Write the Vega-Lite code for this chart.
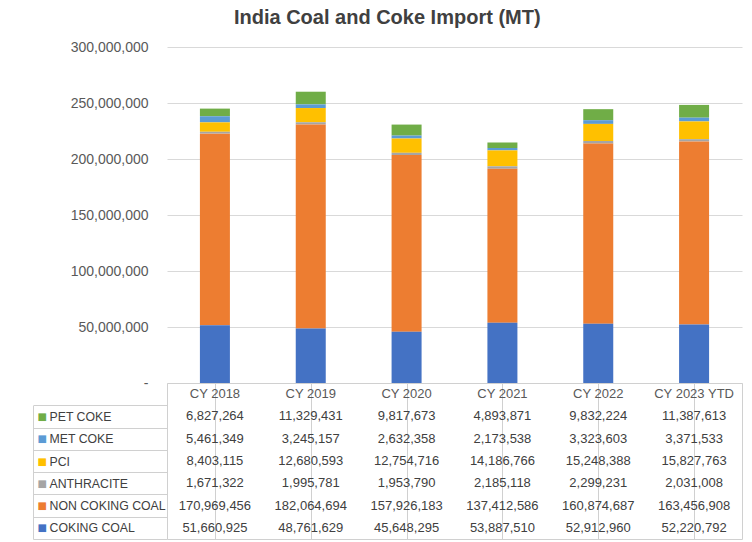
{
  "$schema": "https://vega.github.io/schema/vega-lite/v6.json",
  "padding": {"left": 32, "top": 8, "right": 11, "bottom": 2},
  "background": "white",
  "title": {"text": "India Coal and Coke Import (MT)", "font": "Liberation Sans", "fontSize": 20, "fontWeight": "bold", "color": "#404040", "anchor": "middle", "offset": 12},
  "bounds": "flush",
  "spacing": 0,
  "config": {"view": {"stroke": null}, "font": "Liberation Sans"},
  "datasets": {
    "imports": [
      {"year": "CY 2018", "type": "PET COKE", "value": 6827264},
      {"year": "CY 2018", "type": "MET COKE", "value": 5461349},
      {"year": "CY 2018", "type": "PCI", "value": 8403115},
      {"year": "CY 2018", "type": "ANTHRACITE", "value": 1671322},
      {"year": "CY 2018", "type": "NON COKING COAL", "value": 170969456},
      {"year": "CY 2018", "type": "COKING COAL", "value": 51660925},
      {"year": "CY 2019", "type": "PET COKE", "value": 11329431},
      {"year": "CY 2019", "type": "MET COKE", "value": 3245157},
      {"year": "CY 2019", "type": "PCI", "value": 12680593},
      {"year": "CY 2019", "type": "ANTHRACITE", "value": 1995781},
      {"year": "CY 2019", "type": "NON COKING COAL", "value": 182064694},
      {"year": "CY 2019", "type": "COKING COAL", "value": 48761629},
      {"year": "CY 2020", "type": "PET COKE", "value": 9817673},
      {"year": "CY 2020", "type": "MET COKE", "value": 2632358},
      {"year": "CY 2020", "type": "PCI", "value": 12754716},
      {"year": "CY 2020", "type": "ANTHRACITE", "value": 1953790},
      {"year": "CY 2020", "type": "NON COKING COAL", "value": 157926183},
      {"year": "CY 2020", "type": "COKING COAL", "value": 45648295},
      {"year": "CY 2021", "type": "PET COKE", "value": 4893871},
      {"year": "CY 2021", "type": "MET COKE", "value": 2173538},
      {"year": "CY 2021", "type": "PCI", "value": 14186766},
      {"year": "CY 2021", "type": "ANTHRACITE", "value": 2185118},
      {"year": "CY 2021", "type": "NON COKING COAL", "value": 137412586},
      {"year": "CY 2021", "type": "COKING COAL", "value": 53887510},
      {"year": "CY 2022", "type": "PET COKE", "value": 9832224},
      {"year": "CY 2022", "type": "MET COKE", "value": 3323603},
      {"year": "CY 2022", "type": "PCI", "value": 15248388},
      {"year": "CY 2022", "type": "ANTHRACITE", "value": 2299231},
      {"year": "CY 2022", "type": "NON COKING COAL", "value": 160874687},
      {"year": "CY 2022", "type": "COKING COAL", "value": 52912960},
      {"year": "CY 2023 YTD", "type": "PET COKE", "value": 11387613},
      {"year": "CY 2023 YTD", "type": "MET COKE", "value": 3371533},
      {"year": "CY 2023 YTD", "type": "PCI", "value": 15827763},
      {"year": "CY 2023 YTD", "type": "ANTHRACITE", "value": 2031008},
      {"year": "CY 2023 YTD", "type": "NON COKING COAL", "value": 163456908},
      {"year": "CY 2023 YTD", "type": "COKING COAL", "value": 52220792}
    ]
  },
  "vconcat": [
    {
      "width": 575,
      "height": 336,
      "data": {"name": "imports"},
      "transform": [{"calculate": "indexof(['COKING COAL', 'NON COKING COAL', 'ANTHRACITE', 'PCI', 'MET COKE', 'PET COKE'], datum.type)", "as": "stackOrder"}],
      "mark": {"type": "bar", "width": 30},
      "encoding": {
        "x": {"field": "year", "type": "nominal", "sort": null,
          "scale": {"domain": ["CY 2018", "CY 2019", "CY 2020", "CY 2021", "CY 2022", "CY 2023 YTD"], "paddingInner": 0, "paddingOuter": 0},
          "axis": null},
        "y": {"field": "value", "type": "quantitative", "stack": "zero",
          "scale": {"domain": [0, 300000000], "nice": false},
          "axis": {"values": [0, 50000000, 100000000, 150000000, 200000000, 250000000, 300000000],
            "labelExpr": "datum.value === 0 ? '-' : format(datum.value, ',')",
            "labelFont": "Liberation Sans", "labelFontSize": 14, "labelColor": "#595959", "labelPadding": 19,
            "ticks": false, "domain": false, "grid": true, "gridColor": "#d9d9d9", "title": null}},
        "order": {"field": "stackOrder", "type": "quantitative", "sort": "ascending"},
        "color": {"field": "type", "type": "nominal",
          "scale": {"domain": ["COKING COAL", "NON COKING COAL", "ANTHRACITE", "PCI", "MET COKE", "PET COKE"],
            "range": ["#4472C4", "#ED7D31", "#A5A5A5", "#FFC000", "#5B9BD5", "#70AD47"]},
          "legend": null}
      }
    },
    {
      "width": 575,
      "height": 156,
      "view": {"stroke": "#d0d0d0"},
      "resolve": {"axis": {"y": "independent"}},
      "layer": [
        {
          "data": {"name": "imports"},
          "mark": {"type": "text", "fontSize": 13, "color": "#404040", "font": "Liberation Sans"},
          "encoding": {
            "x": {"field": "year", "type": "nominal", "sort": null,
              "scale": {"domain": ["CY 2018", "CY 2019", "CY 2020", "CY 2021", "CY 2022", "CY 2023 YTD"], "paddingInner": 0, "paddingOuter": 0},
              "axis": {"grid": true, "bandPosition": 0, "gridColor": "#d0d0d0", "labels": false, "ticks": false, "domain": false, "title": null}},
            "y": {"field": "type", "type": "nominal",
              "scale": {"domain": [" ", "PET COKE", "MET COKE", "PCI", "ANTHRACITE", "NON COKING COAL", "COKING COAL"], "paddingInner": 0, "paddingOuter": 0},
              "axis": {"orient": "left", "title": null, "domain": false, "grid": false, "ticks": true, "tickSize": 134, "tickColor": "#d0d0d0",
                "tickOffset": 11.143, "labelOffset": -11.143, "labelAlign": "left", "labelPadding": -16,
                "labelFont": "Liberation Sans", "labelFontSize": 12.3, "labelColor": "#404040"}},
            "text": {"field": "value", "type": "quantitative", "format": ","}
          }
        },
        {
          "data": {"name": "imports"},
          "transform": [{"filter": "datum.type === 'COKING COAL'"}],
          "mark": {"type": "text", "fontSize": 13, "color": "#595959", "font": "Liberation Sans"},
          "encoding": {
            "x": {"field": "year", "type": "nominal", "sort": null,
              "scale": {"domain": ["CY 2018", "CY 2019", "CY 2020", "CY 2021", "CY 2022", "CY 2023 YTD"], "paddingInner": 0, "paddingOuter": 0},
              "axis": {"grid": true, "bandPosition": 0, "gridColor": "#d0d0d0", "labels": false, "ticks": false, "domain": false, "title": null}},
            "y": {"datum": " ", "type": "nominal",
              "scale": {"domain": [" ", "PET COKE", "MET COKE", "PCI", "ANTHRACITE", "NON COKING COAL", "COKING COAL"], "paddingInner": 0, "paddingOuter": 0},
              "axis": {"orient": "left", "title": null, "offset": 134, "domain": true, "domainColor": "#d0d0d0", "domainDash": [0, 22.29, 140, 0],
                "ticks": false, "grid": false,
                "labelExpr": "datum.value === ' ' ? '' : '■'", "labelAlign": "left", "labelPadding": -4,
                "labelFont": "DejaVu Sans", "labelFontSize": 10,
                "labelColor": {"condition": [
                  {"test": "datum.value === 'PET COKE'", "value": "#70AD47"},
                  {"test": "datum.value === 'MET COKE'", "value": "#5B9BD5"},
                  {"test": "datum.value === 'PCI'", "value": "#FFC000"},
                  {"test": "datum.value === 'ANTHRACITE'", "value": "#A5A5A5"},
                  {"test": "datum.value === 'NON COKING COAL'", "value": "#ED7D31"}
                ], "value": "#4472C4"}}},
            "text": {"field": "year", "type": "nominal"}
          }
        }
      ]
    }
  ]
}
